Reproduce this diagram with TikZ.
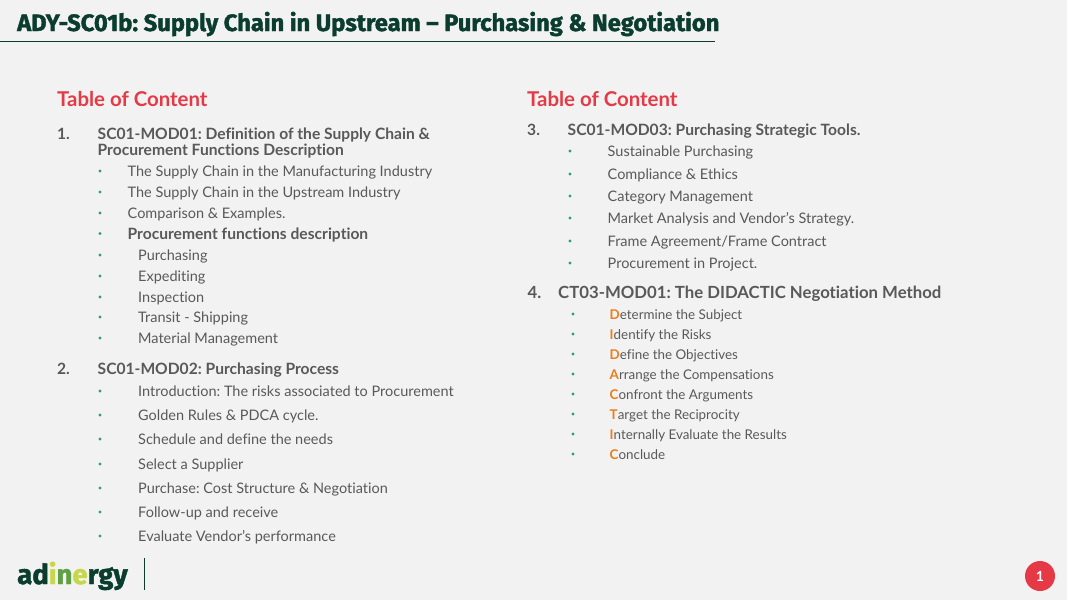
\documentclass[tikz,border=0pt]{standalone}
\usepackage{xcolor}
\usepackage{fontspec}
\setmainfont{Lato}[Ligatures=NoCommon]
\newfontfamily\titlefont{Fira Sans}[BoldFeatures={FakeBold=1.6}]
\usepackage{tikz}
\definecolor{pagegrey}{HTML}{F2F2F2}
\definecolor{darkgreen}{HTML}{0B3D2E}
\definecolor{tocred}{HTML}{E63946}
\definecolor{bodygrey}{HTML}{595959}
\definecolor{dotgreen}{HTML}{2E9E78}
\definecolor{acorange}{HTML}{ED7D1A}
\definecolor{logolime}{HTML}{C6D84A}
\definecolor{logogreen}{HTML}{5FA044}
\frenchspacing
\tikzstyle{titlebox} = [anchor=base west, yshift=-7pt, inner sep=0pt, text=darkgreen, font=\titlefont\fontsize{23.7}{24}\selectfont\bfseries]
\tikzstyle{tochead} = [anchor=base west, yshift=-7pt, inner sep=0pt, text=tocred, font=\fontsize{20.4}{21}\selectfont\bfseries]
\tikzstyle{modhead} = [anchor=base west, yshift=-6pt, inner sep=0pt, text=bodygrey, font=\fontsize{15.6}{16}\selectfont\bfseries, align=left]
\tikzstyle{bighead} = [modhead, font=\fontsize{16.75}{17}\selectfont\bfseries]
\tikzstyle{itembox} = [anchor=base west, yshift=-5pt, inner sep=0pt, text=bodygrey, font=\fontsize{14.5}{15}\selectfont]
\tikzstyle{smallitem} = [anchor=base west, yshift=-5.3pt, inner sep=0pt, text=bodygrey, font=\fontsize{13.4}{14}\selectfont]
\tikzstyle{dotbox} = [circle, inner sep=0pt, minimum size=3.4pt, fill=dotgreen]
\newcommand{\acl}[1]{\textcolor{acorange}{\textbf{#1}}}
\begin{document}
\begin{tikzpicture}[x=1pt,y=-1pt]
\useasboundingbox [fill=pagegrey] (0,0) rectangle (1067,600);
% title
\node [titlebox] (title) at (17,24) {ADY-SC01b: Supply Chain in Upstream – Purchasing \& Negotiation};
\coordinate (ruleL) at (0,41.5);
\coordinate (ruleR) at (715,41.5);
\draw [darkgreen, line width=1pt] (ruleL) -- (ruleR);
% left column
\node [tochead] (tocL) at (57,99) {Table of Content};
\node [modhead] (numA) at (57,133) {1.};
\node [modhead] (modA) at (97.5,133) {SC01-MOD01: Definition of the Supply Chain \&};
\node [modhead] (modAb) at (97.5,149) {Procurement Functions Description};
\foreach \i/\ypos/\xpos/\txt in {1/171/127.5/The Supply Chain in the Manufacturing Industry,
    2/192/127.5/The Supply Chain in the Upstream Industry,
    3/213/127.5/Comparison \& Examples.,
    5/255/138/Purchasing,
    6/276/138/Expediting,
    7/297/138/Inspection,
    8/317/138/Transit - Shipping,
    9/338/138/Material Management}
{
    \node [dotbox] (dotA\i) at (100,\ypos) {};
    \node [itembox] (itemA\i) at (\xpos,\ypos) {\txt};
}
\node [dotbox] (dotA4) at (100,233.5) {};
\node [modhead] (itemA4) at (127.5,233.5) {Procurement functions description};
\node [modhead] (numB) at (57,368) {2.};
\node [modhead] (modB) at (97.5,368) {SC01-MOD02: Purchasing Process};
\foreach \i/\ypos/\txt in {1/391/Introduction: The risks associated to Procurement,
    2/415/Golden Rules \& PDCA cycle.,
    3/439/Schedule and define the needs,
    4/464/Select a Supplier,
    5/488/Purchase: Cost Structure \& Negotiation,
    6/512/Follow-up and receive,
    7/536/Evaluate Vendor's performance}
{
    \node [dotbox] (dotB\i) at (100,\ypos) {};
    \node [itembox] (itemB\i) at (138,\ypos) {\txt};
}
% right column
\node [tochead] (tocR) at (527,99) {Table of Content};
\node [modhead] (numC) at (527,129) {3.};
\node [modhead] (modC) at (567.5,129) {SC01-MOD03: Purchasing Strategic Tools.};
\foreach \i/\ypos/\txt in {1/151/Sustainable Purchasing,
    2/174/Compliance \& Ethics,
    3/196/Category Management,
    4/218/Market Analysis and Vendor's Strategy.,
    5/241/{Frame Agreement/Frame Contract},
    6/263/Procurement in Project.}
{
    \node [dotbox] (dotC\i) at (570,\ypos) {};
    \node [itembox] (itemC\i) at (607.5,\ypos) {\txt};
}
\node [bighead] (numD) at (527.5,292) {4.};
\node [bighead] (modD) at (558,292) {CT03-MOD01: The DIDACTIC Negotiation Method};
\foreach \i/\ypos/\first/\rest in {1/314/D/etermine the Subject,
    2/334/I/dentify the Risks,
    3/354/D/efine the Objectives,
    4/374/A/rrange the Compensations,
    5/394/C/onfront the Arguments,
    6/414/T/arget the Reciprocity,
    7/434/I/nternally Evaluate the Results,
    8/454/C/onclude}
{
    \node [dotbox] (dotD\i) at (573,\ypos) {};
    \node [smallitem] (itemD\i) at (609.5,\ypos) {\acl{\first}\rest};
}
% footer
\node [anchor=base west, inner sep=0pt, text=darkgreen, font=\titlefont\fontsize{27.5}{28}\selectfont\bfseries] (logo) at (17,584) {ad\textcolor{logolime}{i}\textcolor{logogreen}{n}\textcolor{logolime}{e}rgy};
\coordinate (sepT) at (144.5,558);
\coordinate (sepB) at (144.5,590);
\draw [darkgreen, line width=1pt] (sepT) -- (sepB);
\node [circle, fill=tocred, minimum size=30pt, inner sep=0pt, text=white, font=\fontsize{14}{14}\selectfont\bfseries] (pagenum) at (1040,576) {1};
\end{tikzpicture}
\end{document}
